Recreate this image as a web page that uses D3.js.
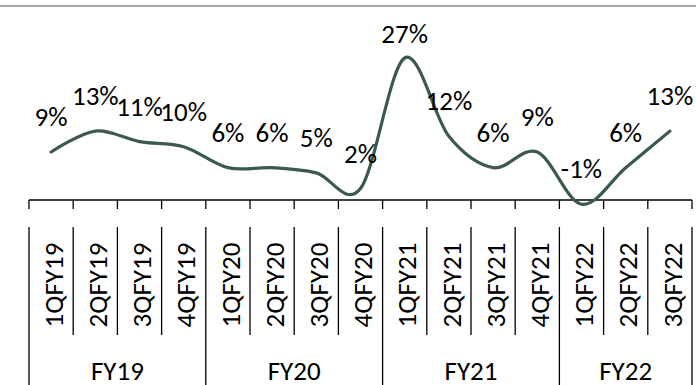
<!DOCTYPE html>
<html>
<head>
<meta charset="utf-8">
<script src="https://cdn.jsdelivr.net/npm/d3@7"></script>
<style>
  html, body { margin: 0; padding: 0; background: #fff; }
  svg { display: block; font-family: Carlito, Calibri, Lato, sans-serif; }
</style>
</head>
<body>
<svg id="chart" width="696" height="385"></svg>
<script>
// Quarterly growth, FY19 – FY22
const quarters = ["1QFY19", "2QFY19", "3QFY19", "4QFY19",
                  "1QFY20", "2QFY20", "3QFY20", "4QFY20",
                  "1QFY21", "2QFY21", "3QFY21", "4QFY21",
                  "1QFY22", "2QFY22", "3QFY22"];
const growth = [9, 13, 11, 10, 6, 6, 5, 2, 27, 12, 6, 9, -1, 6, 13];
const years = ["FY19", "FY20", "FY21", "FY22"];
const quarterYear = ["FY19", "FY19", "FY19", "FY19",
                     "FY20", "FY20", "FY20", "FY20",
                     "FY21", "FY21", "FY21", "FY21",
                     "FY22", "FY22", "FY22"];

const svg = d3.select("#chart");
const W = 696, H = 385;
const FONT = 27;

const left = 29, right = 692;
const axisY = 200;

const x = d3.scaleBand().domain(quarters).range([left, right]);
const y = d3.scaleLinear().domain([0, 27]).range([199, 58]);

// thin rule along the top
svg.append("line")
  .attr("x1", 0).attr("x2", W).attr("y1", 6).attr("y2", 6)
  .attr("stroke", "#a6a6a6").attr("stroke-width", 2);

// category axis line and tick marks at the band edges
const edges = quarters.map(q => x(q)).concat([right]);
svg.append("line")
  .attr("x1", left).attr("x2", right).attr("y1", axisY).attr("y2", axisY)
  .attr("stroke", "#000").attr("stroke-width", 1.3);
svg.append("g").selectAll("line").data(edges).join("line")
  .attr("x1", d => d).attr("x2", d => d)
  .attr("y1", axisY).attr("y2", axisY + 9)
  .attr("stroke", "#000").attr("stroke-width", 1.3);

// separators between quarter labels; year boundaries run to the bottom
const isYearEdge = (i) => i === 0 || i === quarters.length || quarterYear[i] !== quarterYear[i - 1];
svg.append("g").selectAll("line").data(edges).join("line")
  .attr("x1", d => d).attr("x2", d => d)
  .attr("y1", 227)
  .attr("y2", (d, i) => isYearEdge(i) ? H : 335)
  .attr("stroke", "#000").attr("stroke-width", 1.3);

// quarter labels, rotated
svg.append("g").selectAll("text").data(quarters).join("text")
  .attr("transform", d => `translate(${x(d) + x.bandwidth() / 2 + 2},285) rotate(-90)`)
  .attr("text-anchor", "middle")
  .attr("dy", "0.36em")
  .attr("font-size", FONT)
  .attr("fill", "#000")
  .text(d => d);

// year labels centred under their quarters
svg.append("g").selectAll("text").data(years).join("text")
  .attr("x", yr => {
    const qs = quarters.filter((q, i) => quarterYear[i] === yr);
    return (x(qs[0]) + x(qs[qs.length - 1]) + x.bandwidth()) / 2;
  })
  .attr("y", 380)
  .attr("text-anchor", "middle")
  .attr("font-size", FONT)
  .attr("fill", "#000")
  .text(d => d);

// smoothed growth line
const line = d3.line()
  .x((d, i) => x(quarters[i]) + x.bandwidth() / 2)
  .y(d => y(d))
  .curve(d3.curveCardinal.tension(0));

svg.append("path")
  .datum(growth)
  .attr("d", line)
  .attr("fill", "none")
  .attr("stroke", "#3b5a4b")
  .attr("stroke-width", 3.2)
  .attr("stroke-linecap", "round");

// value labels above each point
svg.append("g").selectAll("text").data(growth).join("text")
  .attr("x", (d, i) => x(quarters[i]) + x.bandwidth() / 2)
  .attr("y", d => Math.max(y(d) - 26, 43))
  .attr("text-anchor", "middle")
  .attr("font-size", FONT)
  .attr("fill", "#000")
  .text(d => d + "%");
</script>
</body>
</html>
